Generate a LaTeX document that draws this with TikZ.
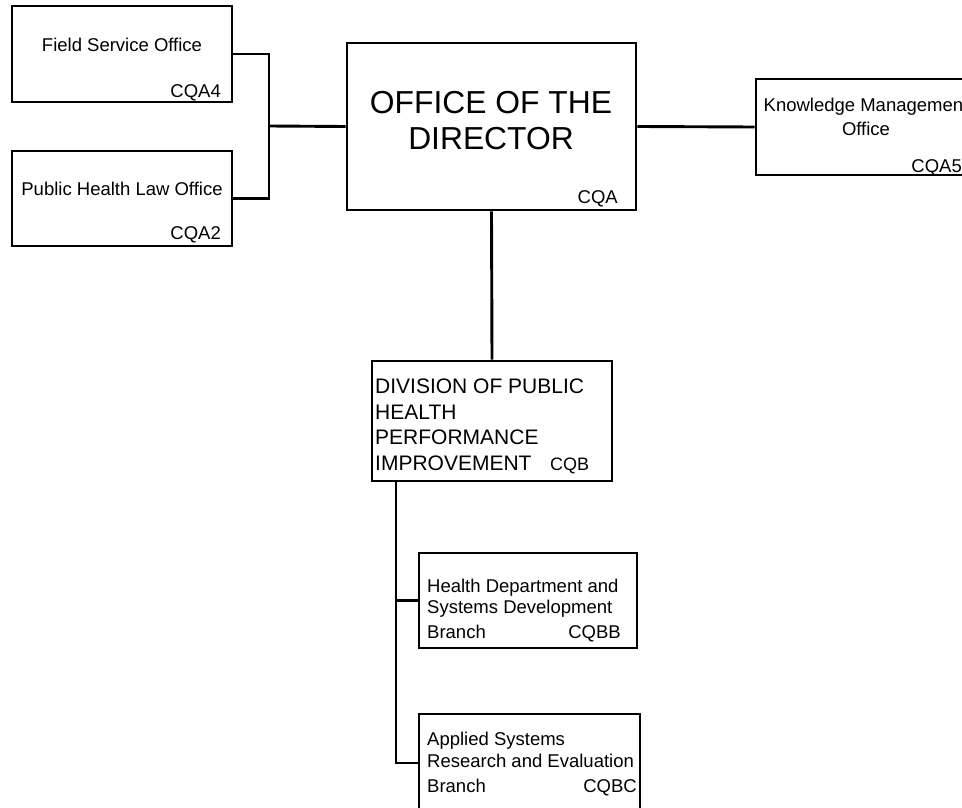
\documentclass[tikz,border=0pt]{standalone}
\usepackage{fontspec}
\setmainfont{Liberation Sans}
\begin{document}
\begin{tikzpicture}[x=1pt,y=-1pt,
  box/.style={draw, line width=2.9pt, inner sep=0pt},
  conn/.style={line width=2.9pt},
  txt/.style={font=\fontsize{18.5}{22}\selectfont, inner sep=0pt},
  big/.style={font=\fontsize{31.8}{36}\selectfont, inner sep=0pt},
  mid/.style={font=\fontsize{21}{26}\selectfont, inner sep=0pt},
  code/.style={font=\fontsize{18}{22}\selectfont, inner sep=0pt}]
\useasboundingbox (0,0) rectangle (962,808);
% boxes
\node[box, minimum width=220pt, minimum height=96pt] (fso) at (122,54) {};
\node[box, minimum width=220pt, minimum height=95pt] (phlo) at (122,198.5) {};
\node[box, minimum width=289pt, minimum height=167pt] (dir) at (491.5,126.5) {};
\node[box, minimum width=220pt, minimum height=96pt] (kmo) at (866,127) {};
\node[box, minimum width=240pt, minimum height=120pt] (div) at (492,421) {};
\node[box, minimum width=218pt, minimum height=95pt] (hd) at (528,600.5) {};
\node[box, minimum width=221pt, minimum height=98pt] (as) at (529.5,763) {};
% texts
\node[txt, anchor=base] (fsot) at (122,51.6) {Field Service Office};
\node[txt, anchor=base east] (fsoc) at (221,97.6) {CQA4};
\node[txt, anchor=base] (phlot) at (122,195.6) {Public Health Law Office};
\node[txt, anchor=base east] (phloc) at (221,239.6) {CQA2};
\node[big, anchor=base] (dirt1) at (491,113.4) {OFFICE OF THE};
\node[big, anchor=base] (dirt2) at (491,149.4) {DIRECTOR};
\node[txt, anchor=base east] (dirc) at (618,203.6) {CQA};
\node[txt, anchor=base] (kmot1) at (866,111.6) {Knowledge Management};
\node[txt, anchor=base] (kmot2) at (866,135.6) {Office};
\node[txt, anchor=base east] (kmoc) at (962,172.6) {CQA5};
\node[mid, anchor=base west] (divt1) at (375,393) {DIVISION OF PUBLIC};
\node[mid, anchor=base west] (divt2) at (375,419) {HEALTH};
\node[mid, anchor=base west] (divt3) at (375,444) {PERFORMANCE};
\node[mid, anchor=base west] (divt4) at (375,470) {IMPROVEMENT};
\node[code, anchor=base west] (divc) at (550,470) {CQB};
\node[txt, anchor=base west] (hdt1) at (427,592) {Health Department and};
\node[txt, anchor=base west] (hdt2) at (427,613.5) {Systems Development};
\node[txt, anchor=base west] (hdt3) at (427,638) {Branch};
\node[txt, anchor=base east] (hdc) at (621,638) {CQBB};
\node[txt, anchor=base west] (ast1) at (427,745) {Applied Systems};
\node[txt, anchor=base west] (ast2) at (427,767) {Research and Evaluation};
\node[txt, anchor=base west] (ast3) at (427,792) {Branch};
\node[txt, anchor=base east] (asc) at (637,792) {CQBC};
% connectors
\coordinate (j1) at (269,126);
\coordinate (j2) at (396,481);
\draw[conn] (fso.east) -| (j1) |- (phlo.east);
\draw[conn] (j1) -- (dir.west);
\draw[conn] (dir.east) -- (kmo.west);
\draw[conn] (dir.south) -- (div.north);
\draw[conn] (j2) |- (hd.west);
\draw[conn] (j2) |- (as.west);
\end{tikzpicture}
\end{document}
